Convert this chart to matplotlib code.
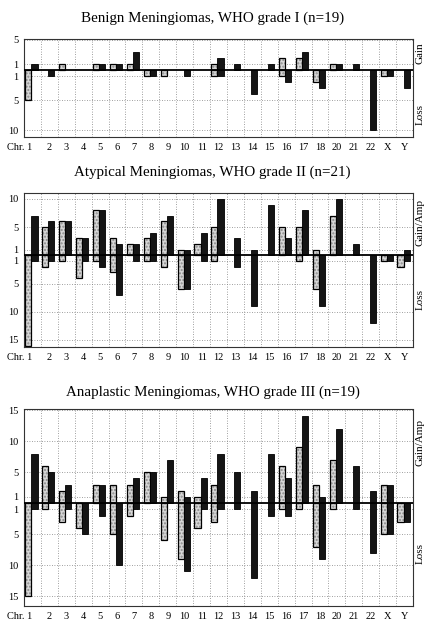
import numpy as np
import matplotlib.pyplot as plt

plt.rcParams['font.family'] = ['Liberation Serif', 'DejaVu Serif']

chromosomes = ['1', '2', '3', '4', '5', '6', '7', '8', '9', '10', '11', '12',
               '13', '14', '15', '16', '17', '18', '20', '21', '22', 'X', 'Y']

# number of cases per chromosome arm (p = light, q = black)
benign_gain_p = [0, 0, 1, 0, 1, 1, 1, 0, 0, 0, 0, 1, 0, 0, 0, 2, 2, 0, 1, 0, 0, 0, 0]
benign_gain_q = [1, 0, 0, 0, 1, 1, 3, 0, 0, 0, 0, 2, 1, 0, 1, 0, 3, 0, 1, 1, 0, 0, 0]
benign_loss_p = [5, 0, 0, 0, 0, 0, 0, 1, 1, 0, 0, 1, 0, 0, 0, 1, 0, 2, 0, 0, 0, 1, 0]
benign_loss_q = [0, 1, 0, 0, 0, 0, 0, 1, 0, 1, 0, 1, 0, 4, 0, 2, 0, 3, 0, 0, 10, 1, 3]

atyp_gain_p = [0, 5, 6, 3, 8, 3, 2, 3, 6, 1, 2, 5, 0, 0, 0, 5, 5, 1, 7, 0, 0, 0, 0]
atyp_gain_q = [7, 6, 6, 3, 8, 2, 2, 4, 7, 1, 4, 10, 3, 1, 9, 3, 8, 0, 10, 2, 0, 0, 1]
atyp_loss_p = [16, 2, 1, 4, 1, 3, 0, 1, 2, 6, 0, 1, 0, 0, 0, 0, 1, 6, 0, 0, 0, 1, 2]
atyp_loss_q = [1, 1, 0, 1, 2, 7, 1, 1, 0, 6, 1, 0, 2, 9, 0, 0, 0, 9, 0, 0, 12, 1, 1]

anap_gain_p = [0, 6, 2, 0, 3, 3, 3, 5, 1, 2, 1, 3, 0, 0, 0, 6, 9, 3, 7, 0, 0, 3, 0]
anap_gain_q = [8, 5, 3, 0, 3, 0, 4, 5, 7, 1, 4, 8, 5, 2, 8, 4, 14, 1, 12, 6, 2, 3, 0]
anap_loss_p = [15, 1, 3, 4, 0, 5, 2, 0, 6, 9, 4, 3, 0, 0, 0, 1, 1, 7, 1, 0, 0, 5, 3]
anap_loss_q = [1, 0, 1, 5, 2, 10, 1, 0, 0, 11, 1, 1, 1, 12, 2, 2, 0, 9, 0, 1, 8, 5, 3]

W, H = 425, 621
fig = plt.figure(figsize=(W / 100, H / 100), dpi=100)


def draw_arm(ax, x, values, sign, light):
    values = np.array(values)
    keep = values > 0
    xs = x[keep]
    hs = sign * values[keep]
    if light:
        ax.bar(xs, hs, width=0.36, align='edge', color='#d6d6d6', hatch='.....',
               edgecolor='#8a8a8a', linewidth=0, zorder=2)
        ax.bar(xs, hs, width=0.36, align='edge', fill=False, edgecolor='black',
               linewidth=0.9, zorder=2)
    else:
        ax.bar(xs, hs, width=0.36, align='edge', color='#151515', edgecolor='black',
               linewidth=0.6, zorder=2)


def panel(top, bottom, title, title_y, gain_p, gain_q, loss_p, loss_q, ylim, yticks,
          gain_text, gain_y, loss_y):
    ax = fig.add_axes([24 / W, 1 - bottom / H, (413 - 24) / W, (bottom - top) / H])
    x = np.arange(len(chromosomes))
    draw_arm(ax, x - 0.42, gain_p, 1, True)
    draw_arm(ax, x - 0.06, gain_q, 1, False)
    draw_arm(ax, x - 0.42, loss_p, -1, True)
    draw_arm(ax, x - 0.06, loss_q, -1, False)
    ax.axhline(0, color='black', lw=1.3, zorder=3)
    for v in yticks:
        ax.axhline(v, color='#808080', lw=0.6, ls=(0, (1, 2)), zorder=0)
    for b in x[:-1] + 0.5:
        ax.axvline(b, color='#808080', lw=0.6, ls=(0, (1, 2)), zorder=0)
    ax.set_xlim(-0.5, len(chromosomes) - 0.5)
    ax.set_ylim(*ylim)
    ax.set_yticks(yticks)
    ax.set_yticklabels([str(abs(v)) for v in yticks])
    ax.set_xticks(x)
    ax.set_xticklabels(['Chr. 1'] + chromosomes[1:])
    ax.get_xticklabels()[0].set_horizontalalignment('right')
    ax.tick_params(length=0, labelsize=7.5, pad=4)
    for s in ax.spines.values():
        s.set_color('#333333')
        s.set_linewidth(0.8)
        s.set_linestyle((0, (1, 1)))
    fig.text(0.5, 1 - title_y / H, title, ha='center', va='center', fontsize=10.8)
    fig.text(424.5 / W, 1 - gain_y / H, gain_text, rotation=90, ha='right', va='center',
             fontsize=8)
    fig.text(424.5 / W, 1 - loss_y / H, 'Loss', rotation=90, ha='right', va='center',
             fontsize=8)


panel(39, 137, 'Benign Meningiomas, WHO grade I (n=19)', 18,
      benign_gain_p, benign_gain_q, benign_loss_p, benign_loss_q,
      (-11.1, 5.15), [5, 1, -1, -5, -10], 'Gain', 53, 115)
panel(193, 347, 'Atypical Meningiomas, WHO grade II (n=21)', 172,
      atyp_gain_p, atyp_gain_q, atyp_loss_p, atyp_loss_q,
      (-16.25, 11.05), [10, 5, 1, -1, -5, -10, -15], 'Gain/Amp', 222, 300)
panel(409, 606, 'Anaplastic Meningiomas, WHO grade III (n=19)', 392,
      anap_gain_p, anap_gain_q, anap_loss_p, anap_loss_q,
      (-16.6, 15.2), [15, 10, 5, 1, -1, -5, -10, -15], 'Gain/Amp', 443, 553)

fig.savefig('out.png', dpi=100)
